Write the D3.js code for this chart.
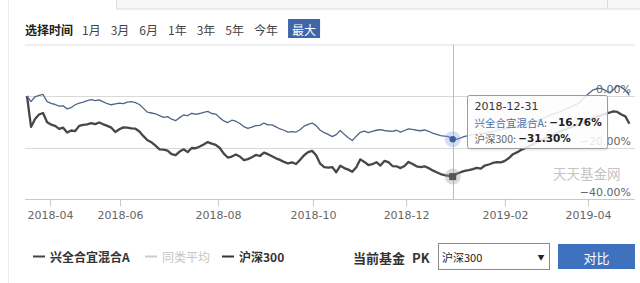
<!DOCTYPE html>
<html><head><meta charset="utf-8">
<script src="https://cdn.jsdelivr.net/npm/d3@7"></script>
<style>
body{margin:0;background:#fff;}
svg{display:block;font-family:"Noto Sans CJK SC","DejaVu Sans",sans-serif;}
</style></head><body>
<svg id="c" width="640" height="283"></svg>
<script>
// ---------------- data ----------------
const periods = ["1月","3月","6月","1年","3年","5年","今年","最大"];
const activePeriod = "最大";
const seriesNames = ["兴全合宜混合A","同类平均","沪深300"];
const tickLabels = ["2018-04","2018-06","2018-08","2018-10","2018-12","2019-02","2019-04"];
// position of each month label, in trading-sample index units
const tickAt = [5.73,23.16,47.56,71.2,94.4,119.0,139.7];
const yTicks = [0,-20,-40];
const hoverIndex = 106;
const hoverDate = "2018-12-31";
const pkLabel = "当前基金";
const pkOption = "沪深300";
const pkButton = "对比";
const watermark = "天天基金网";
// cumulative return (%) of 兴全合宜混合A
const fundValues = [
 0,-2.2,-0.3,0.2,0.6,-2.2,-2.9,-3.3,-3.9,-3.8,
 -5.0,-4.5,-3.4,-2.8,-2.4,-1.8,-1.4,-1.8,-1.5,-2.3,
 -3.0,-3.4,-3.1,-2.8,-3.0,-2.4,-2.2,-2.6,-3.3,-4.8,
 -6.3,-6.6,-6.9,-7.6,-8.3,-8.0,-9.0,-9.6,-8.4,-7.4,
 -7.6,-6.7,-7.1,-6.8,-6.4,-6.0,-6.8,-7.0,-8.5,-9.7,
 -10.3,-9.4,-9.8,-10.7,-11.9,-12.6,-12.1,-11.5,-11.4,-10.5,
 -11.2,-11.2,-12.0,-12.8,-13.3,-14.0,-13.8,-14.0,-13.1,-11.7,
 -11.0,-10.5,-11.5,-13.3,-14.2,-14.9,-15.8,-15.0,-13.4,-14.9,
 -16.2,-17.3,-15.6,-14.1,-13.6,-14.2,-13.7,-13.3,-13.1,-13.4,
 -13.6,-13.7,-13.3,-14.0,-13.4,-12.8,-13.0,-13.3,-13.5,-13.2,
 -13.7,-14.4,-14.9,-15.4,-15.6,-15.8,-16.76,-16.8,-16.3,-15.7,
 -15.4,-15.0,-14.8,-14.4,-14.5,-13.9,-14.0,-13.4,-13.1,-12.6,
 -12.7,-12.0,-11.6,-11.7,-10.8,-10.2,-10.5,-9.6,-9.0,-8.4,
 -7.6,-7.0,-6.6,-5.9,-5.2,-4.6,-3.8,-3.1,-2.0,-0.2,
 1.2,2.4,2.9,3.0,2.2,1.2,2.4,4.1,3.4,2.2,
 0.3
];
// cumulative return (%) of 沪深300
const indexValues = [
 0,-12.0,-8.9,-7.2,-6.6,-10.2,-11.1,-11.6,-12.8,-12.3,
 -14.2,-13.4,-13.6,-11.6,-11.2,-11.0,-10.5,-10.9,-10.3,-11.0,
 -11.6,-12.3,-14.0,-12.9,-12.2,-12.3,-12.6,-12.7,-13.8,-15.6,
 -17.2,-18.0,-19.3,-20.7,-20.8,-21.2,-22.6,-23.0,-21.6,-20.7,
 -21.8,-20.2,-20.3,-19.6,-18.8,-17.9,-18.5,-19.0,-20.2,-22.4,
 -23.9,-23.5,-22.7,-23.5,-24.9,-24.5,-23.8,-22.9,-23.3,-22.0,
 -22.6,-23.4,-24.2,-24.8,-25.6,-26.2,-25.8,-26.4,-24.8,-23.0,
 -21.8,-21.3,-23.0,-26.3,-27.6,-27.8,-27.6,-29.6,-27.1,-28.0,
 -28.6,-29.4,-27.7,-24.6,-25.6,-26.8,-26.5,-25.7,-27.0,-25.2,
 -25.7,-27.2,-27.3,-28.0,-27.2,-25.6,-26.4,-27.3,-27.6,-27.3,
 -28.0,-28.9,-29.6,-30.3,-30.7,-31.0,-31.30,-30.2,-29.6,-29.1,
 -28.8,-28.4,-27.9,-28.2,-27.0,-26.6,-26.0,-25.7,-25.8,-25.2,
 -24.1,-22.6,-21.9,-21.0,-20.3,-19.5,-18.7,-17.9,-17.2,-16.5,
 -15.8,-15.1,-14.3,-13.6,-13.0,-12.4,-11.8,-11.2,-10.6,-9.9,
 -9.3,-8.6,-7.9,-7.4,-6.9,-6.5,-6.0,-6.2,-7.2,-7.9,
 -10.8
];

// ---------------- drawing ----------------
const svg = d3.select("#c");
const W = 640, H = 283;
const fundColor = "#4f6488", indexColor = "#474747";

// page chrome
svg.append("line").attr("x1",8.5).attr("x2",8.5).attr("y1",0).attr("y2",H)
  .attr("stroke","#ececec");
svg.append("rect").attr("x",116.5).attr("y",-2).attr("width",530).attr("height",11)
  .attr("fill","#f7f7f7").attr("stroke","#dcdcdc");
svg.append("line").attr("x1",607.5).attr("x2",607.5).attr("y1",0).attr("y2",9)
  .attr("stroke","#dcdcdc");

// period selector
const sel = svg.append("g").attr("transform","translate(0,29)");
sel.append("text").attr("x",25).attr("dominant-baseline","central")
  .attr("font-size",12).attr("font-weight","bold").attr("fill","#222").text("选择时间");
let px = 82;
periods.forEach(p => {
  const active = p === activePeriod;
  const g = sel.append("g");
  const t = g.append("text").attr("x", active ? px + 4 : px).attr("dominant-baseline","central")
    .attr("font-size",12).attr("fill", active ? "#fff" : "#444").text(p);
  const w = t.node().getComputedTextLength();
  if (active) {
    g.insert("rect","text").attr("x",px).attr("y",-10).attr("width",w+8).attr("height",19)
      .attr("fill","#3d67a8");
  }
  px += w + 10;
});

// scales
const x = d3.scaleLinear().domain([0, fundValues.length - 1]).range([27, 629.4]);
const y = d3.scaleLinear().domain([-40, 20]).range([199, 44.5]);
const plotL = 25, plotR = 635;

// top separator / grid
svg.append("line").attr("x1",plotL).attr("x2",plotR).attr("y1",y(20)+0.5).attr("y2",y(20)+0.5)
  .attr("stroke","#dedede");
const grid = svg.append("g");
yTicks.forEach(v => {
  grid.append("line").attr("x1",plotL).attr("x2",plotR)
    .attr("y1",Math.round(y(v))+0.5).attr("y2",Math.round(y(v))+0.5)
    .attr("stroke", v === -40 ? "#c8c8c8" : "#d9d9d9");
  grid.append("text").attr("x",631).attr("y",y(v)-3).attr("text-anchor","end")
    .attr("font-family","DejaVu Sans").attr("font-size",11).attr("fill","#666")
    .text(d3.format(".2f")(v) + "%");
});

// x axis
const xAxis = d3.axisBottom(x).tickValues(tickAt).tickSize(7)
  .tickFormat((d,i) => tickLabels[i]);
const gx = svg.append("g").attr("transform",`translate(0,${Math.round(y(-40))+0.5})`).call(xAxis);
gx.select(".domain").remove();
gx.selectAll(".tick line").attr("stroke","#c8c8c8");
gx.selectAll(".tick text").attr("font-family","DejaVu Sans").attr("font-size",11)
  .attr("fill","#666").attr("dy","0.9em");

// watermark
svg.append("text").attr("x",553).attr("y",173).attr("dominant-baseline","central")
  .attr("font-size",13.5).attr("fill","#c4c4c4").text(watermark);

// crosshair
svg.append("line").attr("x1",Math.round(x(hoverIndex))+0.5).attr("x2",Math.round(x(hoverIndex))+0.5)
  .attr("y1",y(20)).attr("y2",y(-40)).attr("stroke","#bdbdbd");

// lines
const line = d3.line().x((d,i) => x(i)).y(d => y(d)).curve(d3.curveLinear);
svg.append("path").datum(indexValues).attr("d",line).attr("fill","none")
  .attr("stroke",indexColor).attr("stroke-width",2.3).attr("stroke-linejoin","round");
svg.append("path").datum(fundValues).attr("d",line).attr("fill","none")
  .attr("stroke",fundColor).attr("stroke-width",1.3).attr("stroke-linejoin","round");

// hover markers
const hx = x(hoverIndex);
svg.append("circle").attr("cx",hx).attr("cy",y(fundValues[hoverIndex])).attr("r",8)
  .attr("fill","#7ea0dc").attr("opacity",0.35);
svg.append("circle").attr("cx",hx).attr("cy",y(fundValues[hoverIndex])).attr("r",3.2)
  .attr("fill","#3a5f9f");
svg.append("circle").attr("cx",hx).attr("cy",y(indexValues[hoverIndex])).attr("r",8)
  .attr("fill","#999").attr("opacity",0.35);
svg.append("rect").attr("x",hx-3.5).attr("y",y(indexValues[hoverIndex])-3.5)
  .attr("width",7).attr("height",7).attr("fill","#555");

// tooltip
const tt = svg.append("g").attr("transform","translate(467.5,95.5)");
tt.append("rect").attr("x",1).attr("y",1.5).attr("width",140).attr("height",54)
  .attr("rx",2).attr("fill","#000").attr("opacity",0.06);
tt.append("rect").attr("width",140).attr("height",53).attr("rx",2)
  .attr("fill","#fff").attr("fill-opacity",0.85).attr("stroke","#9a9a9a");
tt.append("text").attr("x",7).attr("y",11).attr("dominant-baseline","central")
  .attr("font-family","DejaVu Sans").attr("font-size",11).attr("fill","#333").text(hoverDate);
const fmt = v => d3.format(".2f")(v) + "%";
const ttRows = [
  [seriesNames[0], fundValues[hoverIndex], "#4a6ea8"],
  [seriesNames[2], indexValues[hoverIndex], "#666"]
];
ttRows.forEach((r, i) => {
  const t = tt.append("text").attr("x",7).attr("y",26.5 + i*15.5).attr("dominant-baseline","central")
    .attr("font-size",10.5);
  t.append("tspan").attr("fill",r[2]).text(r[0] + ": ");
  t.append("tspan").attr("font-family","DejaVu Sans").attr("font-weight","bold")
    .attr("fill","#222").text(fmt(r[1]));
});

// legend
const lg = svg.append("g").attr("transform","translate(0,256)");
const legendItems = [
  {name: seriesNames[0], x1: 33, color: "#444", text: "#333", bold: true},
  {name: seriesNames[1], x1: 145, color: "#ccc", text: "#c6c6c6", bold: false},
  {name: seriesNames[2], x1: 222, color: "#333", text: "#333", bold: true}
];
legendItems.forEach(d => {
  lg.append("line").attr("x1",d.x1).attr("x2",d.x1+12).attr("y1",0.5).attr("y2",0.5)
    .attr("stroke",d.color).attr("stroke-width",2);
  lg.append("text").attr("x",d.x1+17).attr("dominant-baseline","central")
    .attr("font-size",12).attr("font-weight",d.bold ? "bold" : "normal")
    .attr("fill",d.text).text(d.name);
});

// PK controls
const pk = svg.append("g").attr("transform","translate(0,257)");
pk.append("text").attr("x",353).attr("dominant-baseline","central").attr("font-size",13)
  .attr("font-weight","bold").attr("fill","#333").text(pkLabel);
pk.append("text").attr("x",412).attr("dominant-baseline","central").attr("font-size",13)
  .attr("font-weight","bold").attr("fill","#333").text("PK");
pk.append("rect").attr("x",438.5).attr("y",-13.5).attr("width",111).attr("height",26)
  .attr("fill","#fff").attr("stroke","#8a8a8a");
pk.append("text").attr("x",442).attr("dominant-baseline","central").attr("font-size",11)
  .attr("fill","#222").text(pkOption);
pk.append("text").attr("x",541).attr("dominant-baseline","central").attr("font-size",7)
  .attr("text-anchor","middle").attr("fill","#222").text("▼");
pk.append("rect").attr("x",558).attr("y",-13).attr("width",77).attr("height",25)
  .attr("fill","#3e71be");
pk.append("text").attr("x",596.5).attr("dominant-baseline","central").attr("font-size",13)
  .attr("text-anchor","middle").attr("fill","#fff").text(pkButton);
</script>
</body></html>
